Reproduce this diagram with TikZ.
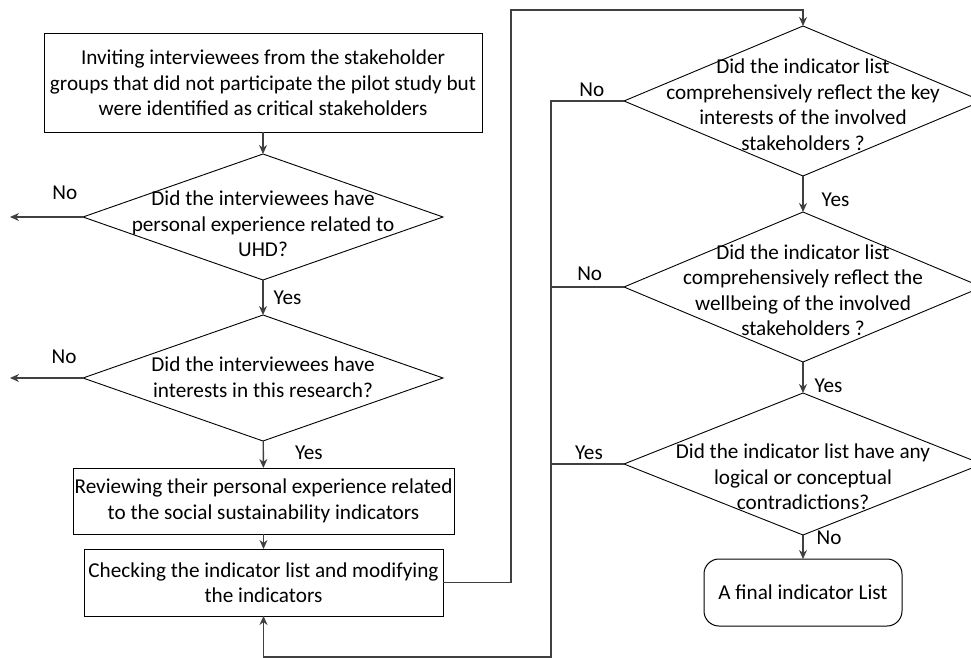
\documentclass[tikz,border=0pt]{standalone}
\usepackage{fontspec}
\setmainfont{Carlito}
\usetikzlibrary{arrows.meta,shapes.geometric}
\definecolor{linegray}{HTML}{404040}

\begin{document}
\begin{tikzpicture}[x=1pt,y=-1pt,>={Stealth[length=9pt,width=8pt]},
		every node/.style={font=\fontsize{21.2}{25.5}\selectfont},
		box/.style={rectangle,draw,line width=1pt,align=center,inner sep=0pt,outer sep=0pt},
		decision/.style={diamond,draw,line width=0.9pt,inner sep=0pt,outer sep=0pt},
		question/.style={align=center,inner sep=0pt},
		conn/.style={draw=linegray,line width=1.4pt},
		lbl/.style={inner sep=0pt}]
		\useasboundingbox (0,0) rectangle (971,658);
		\clip (0,0) rectangle (971,658);
		% left column
		\node[box,minimum width=438pt,minimum height=98pt] (invite) at (263,83) {Inviting interviewees  from the stakeholder\\groups that did not participate the pilot study but\\were identified as critical stakeholders};
		\node[decision,minimum width=360pt,minimum height=126pt] (q1) at (263,217) {};
		\node[question,yshift=-7pt] (q1t) at (q1) {Did the interviewees have\\personal experience related to\\UHD?};
		\node[decision,minimum width=360pt,minimum height=126pt] (q2) at (263,378) {};
		\node[question,yshift=1pt] (q2t) at (q2) {Did the interviewees have\\interests in this research?};
		\node[box,minimum width=381pt,minimum height=66pt] (review) at (263.5,501) {Reviewing their personal experience related\\to the social sustainability indicators};
		\node[box,minimum width=359pt,minimum height=67pt] (check) at (263.5,582.5) {Checking the indicator list and modifying\\the indicators};
		% right column
		\node[decision,minimum width=358pt,minimum height=150pt] (k1) at (803,101) {};
		\node[question,yshift=-3.5pt] (k1t) at (k1) {Did the indicator list\\comprehensively reflect the key\\interests of the involved\\stakeholders ?};
		\node[decision,minimum width=358pt,minimum height=150pt] (k2) at (803,287) {};
		\node[question,yshift=-3pt] (k2t) at (k2) {Did the indicator list\\comprehensively reflect the\\wellbeing of the involved\\stakeholders ?};
		\node[decision,minimum width=358pt,minimum height=142pt] (k3) at (803,464) {};
		\node[question,yshift=-13pt] (k3t) at (k3) {Did the indicator list have any\\logical or conceptual\\contradictions?};
		\node[box,rounded corners=15pt,minimum width=198pt,minimum height=67pt] (final) at (803,592.5) {A final indicator List};
		% bends
		\coordinate (noA) at (10,217);
		\coordinate (noB) at (10,378);
		\coordinate (topL) at (511,10);
		\coordinate (k1L) at (551,101);
		\coordinate (k2L) at (551,287);
		\coordinate (k3L) at (551,464);
		\coordinate (botR) at (551,657);
		% connectors
		\draw[conn,->] (invite) -- (q1);
		\draw[conn,->] (q1.west) -- node[lbl,pos=.25,above=17pt] {No} (noA);
		\draw[conn,->] (q1) -- node[lbl,pos=.5,right=10pt] {Yes} (q2);
		\draw[conn,->] (q2.west) -- node[lbl,pos=.26,above=14pt] {No} (noB);
		\draw[conn,->] (q2) -- node[lbl,pos=.44,right=31pt] {Yes} (review);
		\draw[conn,->] (review) -- (check);
		\draw[conn,->] (check.east) -| (topL) -| (k1.north);
		\draw[conn,->] (k1) -- node[lbl,pos=.66,right=18pt] {Yes} (k2);
		\draw[conn,->] (k2) -- node[lbl,pos=.77,right=11pt] {Yes} (k3);
		\draw[conn,->] (k3) -- node[lbl,pos=.12,right=13pt] {No} (final);
		\draw[conn,->] (k1.west) -- node[lbl,pos=.44,above=4pt] {No} (k1L) -- (botR) -| (check.south);
		\draw[conn] (k2.west) -- node[lbl,pos=.47,above=6pt] {No} (k2L);
		\draw[conn] (k3.west) -- node[lbl,pos=.48,above=4pt] {Yes} (k3L);
\end{tikzpicture}
\end{document}
